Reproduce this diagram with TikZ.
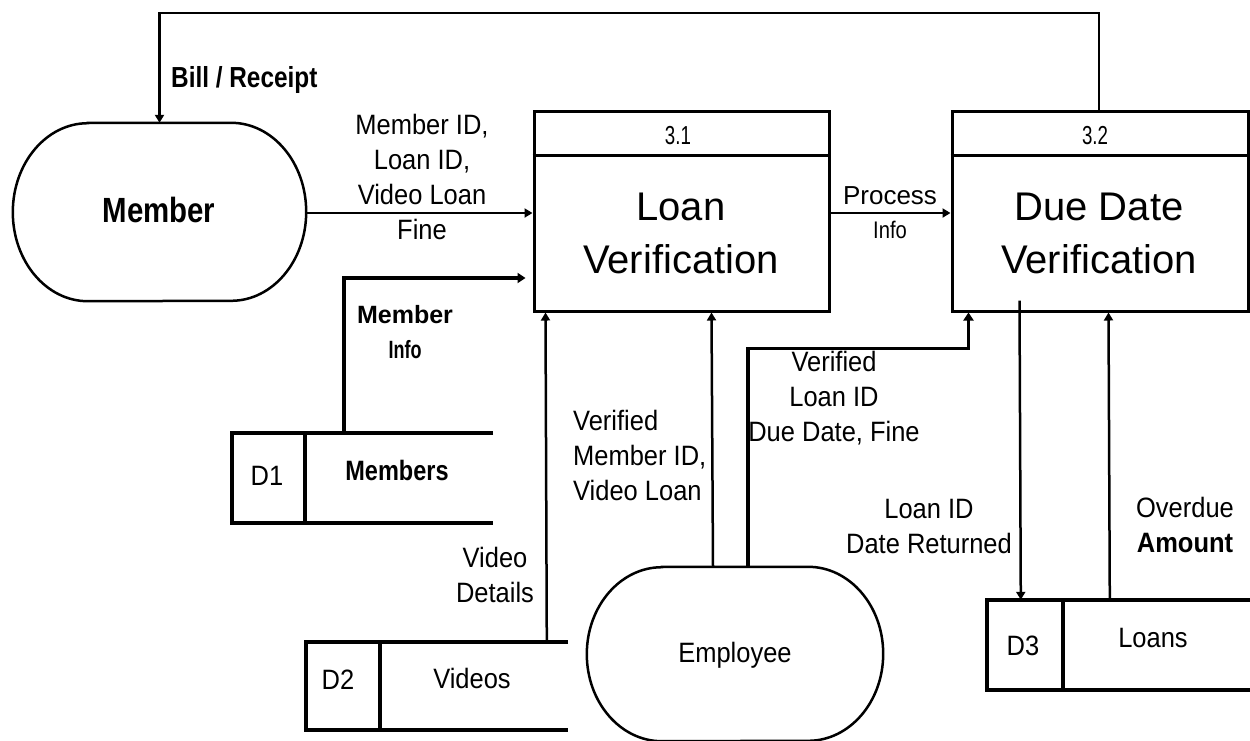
\documentclass[tikz,border=0pt]{standalone}
\usepackage{fontspec}
\setmainfont{Liberation Sans}
\newfontfamily\lab[FakeStretch=0.91]{Liberation Sans}
\newfontfamily\labn[FakeStretch=0.84]{Liberation Sans}
\newfontfamily\labnn[FakeStretch=0.72]{Liberation Sans}
\newfontfamily\labw{Liberation Sans}
\usetikzlibrary{arrows.meta}
\tikzset{
  flow/.style={line width=2.5pt, -{Triangle[length=8pt,width=9pt]}},
  flowthick/.style={line width=3.5pt, -{Triangle[length=8pt,width=10pt]}},
  procbox/.style={draw, line width=3pt, minimum width=295pt, minimum height=200pt, inner sep=0pt},
  holder/.style={draw=none, inner sep=0pt},
  storeline/.style={line width=4.5pt},
  entline/.style={line width=2.5pt},
  lbl/.style={inner sep=0pt, align=center, font=\lab\fontsize{28}{35}\selectfont},
  lblL/.style={inner sep=0pt, align=left, font=\lab\fontsize{28}{35}\selectfont},
  big/.style={inner sep=0pt, align=center, font=\labw\fontsize{40}{53}\selectfont},
  num/.style={inner sep=0pt, font=\labnn\fontsize{26}{28}\selectfont},
}
\begin{document}
\begin{tikzpicture}[x=1pt,y=-1pt]
\useasboundingbox[fill=white] (0,0) rectangle (1250,740);

% entities
\node[holder, minimum width=293pt, minimum height=178pt] (member) at (159.5,212) {};
\draw[entline] ([xshift=75pt]member.north west) -- ([xshift=-75pt]member.north east)
  arc[start angle=-90, end angle=90, x radius=75, y radius=89]
  -- ([xshift=75pt]member.south west)
  arc[start angle=90, end angle=270, x radius=75, y radius=89] -- cycle;
\node[anchor=base, inner sep=0pt, font=\labn\bfseries\fontsize{35}{40}\selectfont] (membertxt) at (159,222) {Member};

\node[holder, minimum width=296pt, minimum height=174pt] (employee) at (735,654) {};
\draw[entline] ([xshift=75pt]employee.north west) -- ([xshift=-75pt]employee.north east)
  arc[start angle=-90, end angle=90, x radius=75, y radius=87]
  -- ([xshift=75pt]employee.south west)
  arc[start angle=90, end angle=270, x radius=75, y radius=87] -- cycle;
\node[lbl, anchor=base] (emptxt) at (735,662) {Employee};

% processes
\node[procbox] (p31) at (681.5,211) {};
\draw[line width=3pt] ([yshift=-46pt]p31.north west) -- ([yshift=-46pt]p31.north east);
\node[num, anchor=base] (p31n) at (678,144) {3.1};
\node[big, anchor=base] (p31t) at (681,273) {Loan\\Verification};

\node[procbox, minimum width=296pt] (p32) at (1100,211) {};
\draw[line width=3pt] ([yshift=-46pt]p32.north west) -- ([yshift=-46pt]p32.north east);
\node[num, anchor=base] (p32n) at (1095,144) {3.2};
\node[big, anchor=base] (p32t) at (1099,273) {Due Date\\Verification};

% data stores
\node[holder, minimum width=261pt, minimum height=90pt] (d1) at (362.5,478) {};
\draw[storeline] (d1.north east) -- (d1.north west) -- (d1.south west) -- (d1.south east);
\draw[storeline] ([xshift=73pt]d1.north west) -- ([xshift=73pt]d1.south west);
\node[lbl, anchor=base] (d1id) at (267,485) {D1};
\node[anchor=base, inner sep=0pt, font=\labn\bfseries\fontsize{28}{35}\selectfont] (d1t) at (397,480) {Members};

\node[holder, minimum width=262pt, minimum height=88pt] (d2) at (437,686) {};
\draw[storeline] (d2.north east) -- (d2.north west) -- (d2.south west) -- (d2.south east);
\draw[line width=3.5pt] ([xshift=74pt]d2.north west) -- ([xshift=74pt]d2.south west);
\node[lbl, anchor=base] (d2id) at (338,689) {D2};
\node[lbl, anchor=base] (d2t) at (472,688) {Videos};

\node[holder, minimum width=263pt, minimum height=90pt] (d3) at (1118.5,645) {};
\draw[storeline] (d3.north east) -- (d3.north west) -- (d3.south west) -- (d3.south east);
\draw[line width=3.5pt] ([xshift=76pt]d3.north west) -- ([xshift=76pt]d3.south west);
\node[lbl, anchor=base] (d3id) at (1023,655) {D3};
\node[lbl, anchor=base] (d3t) at (1153,647) {Loans};

% flows
\coordinate (topline) at (0,13);
\draw[flow] ([xshift=-1pt]p32.north) -- ([xshift=-1pt]p32.north |- topline) -- (member.north |- topline) -- (member.north);
\node[anchor=base west, inner sep=0pt, font=\labn\bfseries\fontsize{29}{35}\selectfont] (billtxt) at (171,87) {Bill / Receipt};

\draw[flow] ([yshift=-1pt]member.east) -- ([yshift=-2pt]p31.west);
\node[lbl, anchor=base] (mltxt) at (422,239) {Member ID,\\Loan ID,\\Video Loan\\Fine};

\draw[flow] ([yshift=-2pt]p31.east) -- ([yshift=-2pt]p32.west);
\node[inner sep=0pt, align=center, anchor=base, font=\labw\fontsize{26}{34}\selectfont] (pitxt) at (890,238) {Process\\{\labn\fontsize{24}{28}\selectfont Info}};

\draw[flowthick] ([xshift=112pt]d1.north west) |- ([xshift=-7pt, yshift=-67pt]p31.west);
\node[inner sep=0pt, align=center, anchor=base, font=\labw\bfseries\fontsize{25}{35}\selectfont] (mitxt) at (405,358) {Member\\{\labnn Info}};

\draw[flow] ([xshift=241pt]d2.north west) -- ([xshift=13pt]p31.south west);
\node[lbl, anchor=base] (vdtxt) at (495,602) {Video\\Details};

\draw[flow] ([xshift=-22pt]employee.north) -- ([xshift=179pt]p31.south west);
\node[lblL, anchor=base west] (vmtxt) at (573,500) {Verified\\Member ID,\\Video Loan};

\draw[flowthick] ([xshift=13pt]employee.north) |- ([xshift=18pt, yshift=-36pt]p32.south west) -- ([xshift=18pt]p32.south west);
\node[lbl, anchor=base] (vltxt) at (834,441) {Verified\\Loan ID\\Due Date, Fine};

\draw[flow] ([xshift=69pt, yshift=12pt]p32.south west) -- ([xshift=34pt]d3.north west);
\node[lbl, anchor=base] (lrtxt) at (929,553) {Loan ID\\Date Returned};

\draw[flow] ([xshift=123pt]d3.north west) -- ([xshift=158pt]p32.south west);
\node[lbl, anchor=base] (oatxt) at (1185,552) {Overdue\\\textbf{Amount}};
\end{tikzpicture}
\end{document}
